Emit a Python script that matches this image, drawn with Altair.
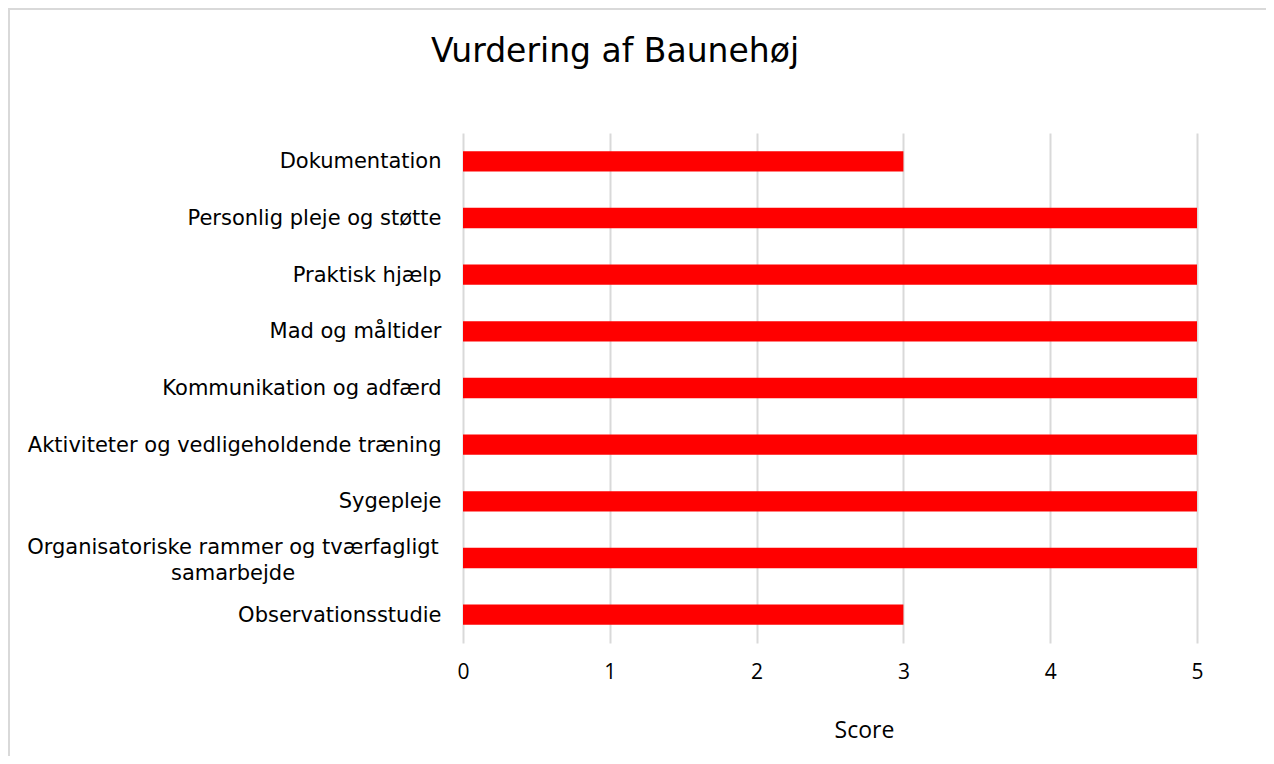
import altair as alt
import pandas as pd

categories = [
    "Dokumentation",
    "Personlig pleje og støtte",
    "Praktisk hjælp",
    "Mad og måltider",
    "Kommunikation og adfærd",
    "Aktiviteter og vedligeholdende træning",
    "Sygepleje",
    "Organisatoriske rammer og tværfagligt samarbejde",
    "Observationsstudie",
]
scores = [3, 5, 5, 5, 5, 5, 5, 5, 3]
x_ticks = [0, 1, 2, 3, 4, 5]
title_text = "Vurdering af Baunehøj"
x_title = "Score"
long_label = "Organisatoriske rammer og tværfagligt samarbejde"
long_label_lines = "Organisatoriske rammer og tværfagligt\nsamarbejde"

df = pd.DataFrame({"category": categories, "score": scores})

label_expr = f"datum.value == '{long_label}' ? '' : datum.label"

y_enc = alt.Y(
    "category:N",
    sort=categories,
    scale=alt.Scale(paddingInner=0.64, paddingOuter=0.32),
    axis=alt.Axis(
        title=None,
        domain=False,
        ticks=False,
        grid=False,
        labelFont="DejaVu Sans",
        labelFontSize=21,
        labelColor="#000000",
        labelPadding=22,
        labelLimit=600,
        labelOffset=1,
        labelExpr=label_expr,
    ),
)

bars = alt.Chart(df).mark_bar(color="#ff0000").encode(
    x=alt.X(
        "score:Q",
        scale=alt.Scale(domain=[0, 5], nice=False),
        axis=alt.Axis(
            values=x_ticks,
            title=x_title,
            grid=True,
            gridColor="#d9d9d9",
            gridWidth=2,
            domain=False,
            ticks=False,
            labelFlush=False,
            labelFont="Open Sans",
            labelFontSize=21,
            labelColor="#000000",
            labelPadding=18,
            titleFont="Open Sans",
            titleFontSize=23,
            titleFontWeight="normal",
            titleColor="#000000",
            titleX=401,
            titleY=94,
            titleAlign="center",
            titleBaseline="alphabetic",
        ),
    ),
    y=y_enc,
)

long_df = pd.DataFrame({"category": [long_label], "text": [long_label_lines]})
long_text = alt.Chart(long_df).mark_text(
    font="DejaVu Sans", fontSize=21, color="#000000", align="center",
    baseline="middle", lineBreak="\n", lineHeight=26, dy=-10
).encode(
    y=alt.Y("category:N", sort=categories),
    x=alt.value(-230),
    text="text:N",
)

border = alt.Chart(pd.DataFrame({"a": [0]})).mark_rect(
    filled=False, stroke="#d9d9d9", strokeWidth=2
).encode(
    x=alt.value(-454), x2=alt.value(1000), y=alt.value(-124), y2=alt.value(800)
)

title = alt.Chart(pd.DataFrame({"t": [title_text]})).mark_text(
    font="DejaVu Sans", fontSize=33, color="#000000", align="center", baseline="alphabetic"
).encode(text="t:N", x=alt.value(152), y=alt.value(-71))

chart = alt.layer(border, bars, long_text, title).properties(
    width=734,
    height=510,
    autosize=alt.AutoSizeParams(type="none"),
    padding={"left": 455, "top": 125, "right": 69, "bottom": 113},
).configure_view(stroke=None)

chart.save("out.html", embed_options={"renderer": "svg", "actions": False})
